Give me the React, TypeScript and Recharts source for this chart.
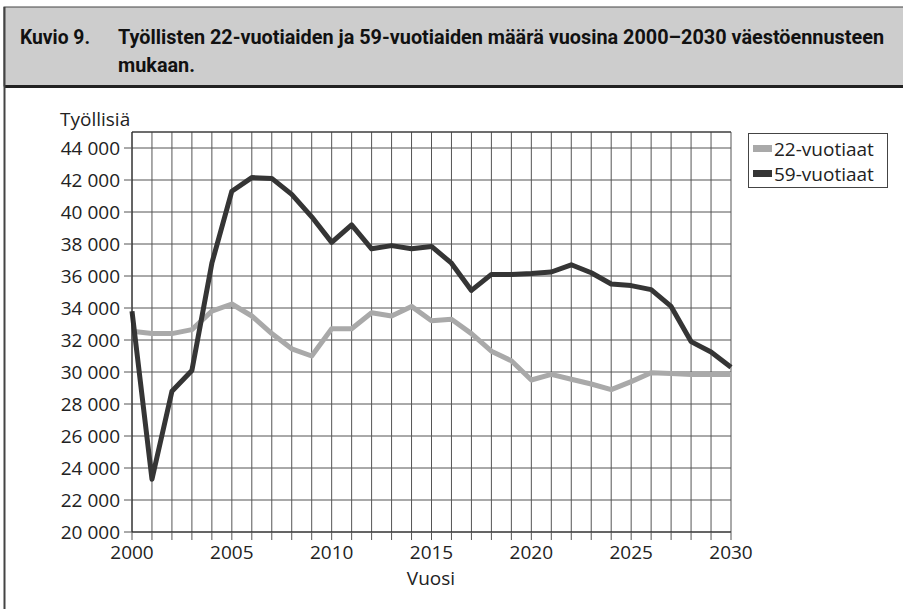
import React from 'react';
import { LineChart, Line, XAxis, YAxis, CartesianGrid, ReferenceLine } from 'recharts';

const years = [2000,2001,2002,2003,2004,2005,2006,2007,2008,2009,2010,2011,2012,2013,2014,2015,2016,2017,2018,2019,2020,2021,2022,2023,2024,2025,2026,2027,2028,2029,2030];
const s22 = [32550,32400,32400,32650,33800,34250,33500,32400,31450,31000,32700,32700,33700,33500,34100,33200,33300,32400,31300,30700,29500,29850,29550,29250,28900,29400,29950,29900,29850,29850,29850];
const s59 = [33800,23300,28800,30100,36800,41300,42150,42100,41100,39700,38100,39200,37700,37900,37700,37850,36800,35100,36100,36100,36150,36250,36700,36200,35500,35400,35150,34100,31900,31250,30300];
const yTicks = [20000,22000,24000,26000,28000,30000,32000,34000,36000,38000,40000,42000,44000];
const seriesNames = ['22-vuotiaat', '59-vuotiaat'];
const titleLead = 'Kuvio 9.';
const titleLine1 = 'Työllisten 22-vuotiaiden ja 59-vuotiaiden määrä vuosina 2000–2030 väestöennusteen';
const titleLine2 = 'mukaan.';
const yLabel = 'Työllisiä';
const xLabel = 'Vuosi';

const data = years.map((y, i) => ({ year: y, a: s22[i], b: s59[i] }));

const FONT = '"Open Sans", "Noto Sans", sans-serif';
const TFONT = 'Roboto, "Open Sans", sans-serif';
const C22 = '#a9a9a9';
const C59 = '#353535';

const LegendBox = () => (
  <div style={{ position: 'absolute', left: 748, top: 133, border: '1px solid #444', width: 140, height: 55, boxSizing: 'border-box', padding: '2px 0 0 4px', fontFamily: FONT, fontSize: 19, color: '#222', background: '#fff' }}>
    {seriesNames.map((n, i) => (
      <div key={n} style={{ display: 'flex', alignItems: 'center', height: 25 }}>
        <span style={{ display: 'inline-block', width: 19, height: 7, background: i === 0 ? C22 : C59, marginRight: 2 }} />
        <span>{n}</span>
      </div>
    ))}
  </div>
);

export default function App() {
  return (
    <div style={{ position: 'absolute', left: 0, top: 0, width: 903, height: 609, background: '#fff', overflow: 'hidden', fontFamily: FONT }}>
      <svg width={903} height={609} style={{ position: 'absolute', left: 0, top: 0 }}>
        <rect x={4} y={7} width={910} height={79} fill="#cdcdcd" stroke="#444" strokeWidth={1} />
        <line x1={4} y1={86.5} x2={903} y2={86.5} stroke="#222" strokeWidth={3} />
        <line x1={4.5} y1={7} x2={4.5} y2={609} stroke="#444" strokeWidth={2} />
        <text x={20} y={44} fontFamily={TFONT} fontWeight={700} fontSize={20} fill="#111" textLength={70} lengthAdjust="spacingAndGlyphs">{titleLead}</text>
        <text x={118} y={44} fontFamily={TFONT} fontWeight={700} fontSize={20} fill="#111" textLength={766} lengthAdjust="spacingAndGlyphs">{titleLine1}</text>
        <text x={118} y={72} fontFamily={TFONT} fontWeight={700} fontSize={20} fill="#111" textLength={77} lengthAdjust="spacingAndGlyphs">{titleLine2}</text>
        <text x={60} y={126} fontFamily={FONT} fontSize={19} fill="#222">{yLabel}</text>
        <text x={431} y={585} textAnchor="middle" fontFamily={FONT} fontSize={19} fill="#222">{xLabel}</text>
      </svg>
      <div style={{ position: 'absolute', left: 0, top: 0 }}>
        <LineChart width={903} height={609} data={data} margin={{ top: 132, right: 172, bottom: 47, left: 0 }}>
          <CartesianGrid stroke="#555" strokeWidth={1} />
          <XAxis
            dataKey="year"
            type="number"
            domain={[2000, 2030]}
            ticks={years}
            interval={0}
            tickFormatter={(v: number) => (v % 5 === 0 ? String(v) : '')}
            height={30}
            tickSize={8}
            tickMargin={6}
            stroke="#222"
            tick={{ fill: '#222', fontSize: 19, fontFamily: FONT }}
            tickLine={{ stroke: '#555' }}
          />
          <YAxis
            type="number"
            domain={[20000, 45000]}
            ticks={yTicks}
            interval={0}
            width={132}
            tickSize={8}
            tickMargin={4}
            stroke="#222"
            tickFormatter={(v: number) => `${v / 1000} 000`}
            tick={{ fill: '#222', fontSize: 19, fontFamily: FONT }}
            tickLine={{ stroke: '#555' }}
            allowDataOverflow
          />
          <ReferenceLine y={45000} stroke="#333" strokeWidth={1} />
          <Line name={seriesNames[0]} dataKey="a" stroke={C22} strokeWidth={5} dot={false} isAnimationActive={false} strokeLinejoin="round" />
          <Line name={seriesNames[1]} dataKey="b" stroke={C59} strokeWidth={5} dot={false} isAnimationActive={false} strokeLinejoin="round" />
        </LineChart>
      </div>
      <LegendBox />
    </div>
  );
}
